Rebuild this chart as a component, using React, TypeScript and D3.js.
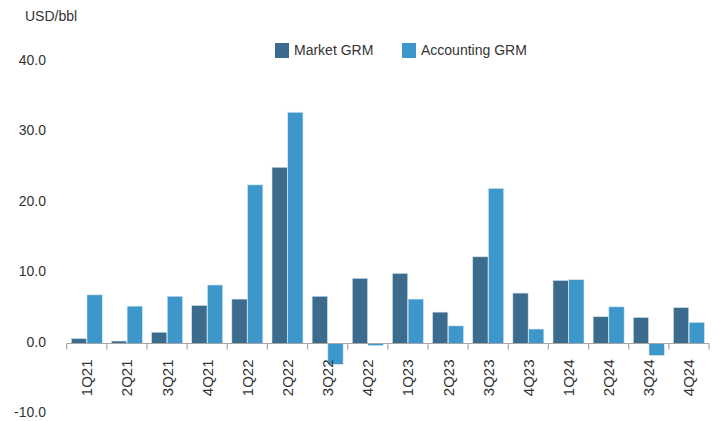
import React from "react";
import * as d3 from "d3";

const categories = ["1Q21","2Q21","3Q21","4Q21","1Q22","2Q22","3Q22","4Q22","1Q23","2Q23","3Q23","4Q23","1Q24","2Q24","3Q24","4Q24"];
const marketGRM = [0.7, 0.35, 1.6, 5.4, 6.3, 25.0, 6.7, 9.25, 9.95, 4.45, 12.3, 7.15, 8.95, 3.8, 3.7, 5.1];
const accountingGRM = [6.9, 5.3, 6.7, 8.3, 22.5, 32.8, -2.95, -0.3, 6.3, 2.5, 22.0, 2.05, 9.05, 5.2, -1.7, 3.0];
const yTicks = [-10, 0, 10, 20, 30, 40];

const W = 718, H = 421;
const MARKET = "#3B6C8E";
const ACC = "#3D97CB";
const FONT = "'Liberation Sans', Arial, sans-serif";

export default function App() {
  const x = d3.scaleBand<string>().domain(categories).range([66.7, 709]).padding(0);
  const y = d3.scaleLinear().domain([-10, 40]).range([414, 61.5]);
  const bw = 15.3;
  const y0 = y(0);
  return (
    <svg width={W} height={H} style={{ position: "absolute", left: 0, top: 0, fontFamily: FONT }}>
      <rect width={W} height={H} fill="#fff" />
      <text x={25} y={21} fontSize={14} fill="#333">USD/bbl</text>
      {yTicks.map((t) => (
        <text key={t} x={46} y={y(t) - 1.5} dy="0.35em" textAnchor="end" fontSize={14} fill="#333">
          {t.toFixed(1)}
        </text>
      ))}
      {categories.map((c, i) => {
        const cx = (x(c) as number) + x.bandwidth() / 2;
        const m = marketGRM[i], a = accountingGRM[i];
        return (
          <g key={c}>
            <rect x={cx - bw - 0.2} y={Math.min(y(m), y0)} width={bw} height={Math.abs(y(m) - y0)} fill={MARKET} stroke="#d6e4ee" strokeWidth={0.6} />
            <rect x={cx + 0.2} y={Math.min(y(a), y0)} width={bw} height={Math.abs(y(a) - y0)} fill={ACC} stroke="#d6e8f4" strokeWidth={0.6} />
          </g>
        );
      })}
      <line x1={66.7} x2={709} y1={y0} y2={y0} stroke="#a6a6a6" strokeWidth={1.2} />
      {d3.range(categories.length + 1).map((i) => {
        const xx = 66.7 + i * x.step();
        return <line key={i} x1={xx} x2={xx} y1={y0} y2={y0 + 6} stroke="#a6a6a6" strokeWidth={1.2} />;
      })}
      {categories.map((c) => {
        const cx = (x(c) as number) + x.bandwidth() / 2;
        return (
          <text key={c} transform={`translate(${cx + 5.5},${y0 + 16}) rotate(-90)`} textAnchor="end" fontSize={15} fill="#333">
            {c}
          </text>
        );
      })}
      <rect x={275} y={43} width={14} height={15} fill={MARKET} />
      <text x={294} y={55} fontSize={14} fill="#333">Market GRM</text>
      <rect x={402} y={43} width={14} height={15} fill={ACC} />
      <text x={421} y={55} fontSize={14} fill="#333">Accounting GRM</text>
    </svg>
  );
}
